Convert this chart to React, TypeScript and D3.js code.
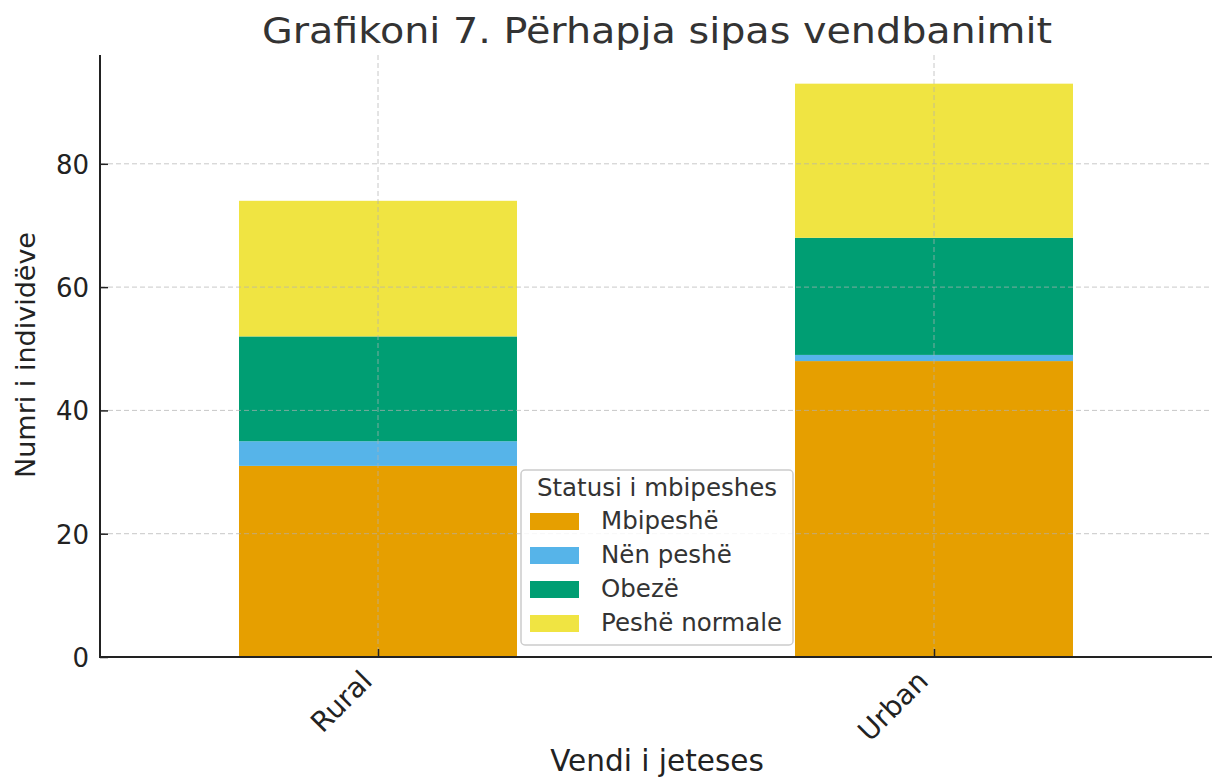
import * as d3 from "d3";
import { useEffect, useRef } from "react";

const places = ["Rural", "Urban"];
const statuses = ["Mbipeshë", "Nën peshë", "Obezë", "Peshë normale"];
const mbipeshe = [31, 48];
const nenPeshe = [4, 1];
const obeze = [17, 19];
const peshNormale = [22, 25];
const yTicks = [0, 20, 40, 60, 80];
const colors = ["#E69F00", "#56B4E9", "#009E73", "#F0E442"];

const W = 1214;
const H = 781;
const FONT = "DejaVu Sans, sans-serif";

export default function App() {
  const svgRef = useRef<SVGSVGElement | null>(null);

  useEffect(() => {
    const svg = d3.select(svgRef.current);
    svg.selectAll("*").remove();

    const m = { left: 100, right: 1212, top: 55, bottom: 657 };
    const series = [mbipeshe, nenPeshe, obeze, peshNormale];
    const rows = places.map((p, i) => {
      const r: any = { place: p };
      statuses.forEach((s, j) => (r[s] = series[j][i]));
      return r;
    });
    const stacked = d3.stack<any>().keys(statuses)(rows);
    const maxVal = d3.max(rows, (r) => d3.sum(statuses, (s) => r[s])) as number;

    // bars sit at 0 and 1, width 0.5, limits -0.5..1.5
    const x = d3.scaleLinear().domain([-0.5, 1.5]).range([m.left, m.right]);
    const y = d3.scaleLinear().domain([0, maxVal * 1.05]).range([m.bottom, m.top]);
    const barW = x(0.5) - x(0);

    const g = svg.append("g");

    stacked.forEach((layer, j) => {
      g.selectAll(null)
        .data(layer)
        .join("rect")
        .attr("x", (_, i) => x(i) - barW / 2)
        .attr("width", barW)
        .attr("y", (d) => y(d[1]))
        .attr("height", (d) => y(d[0]) - y(d[1]))
        .attr("fill", colors[j]);
    });

    // dashed grid over the bars
    const grid = g.append("g").attr("stroke", "#b0b0b0").attr("stroke-opacity", 0.7)
      .attr("stroke-dasharray", "5,3").attr("stroke-width", 1);
    yTicks.slice(1).forEach((t) => {
      grid.append("line").attr("x1", m.left).attr("x2", m.right).attr("y1", y(t)).attr("y2", y(t));
    });
    places.forEach((_, i) => {
      grid.append("line").attr("x1", x(i)).attr("x2", x(i)).attr("y1", m.top).attr("y2", m.bottom);
    });

    // axes, ticks pointing inwards
    const yAxis = g.append("g").attr("transform", `translate(${m.left},0)`)
      .call(d3.axisLeft(y).tickValues(yTicks).tickSize(-8).tickPadding(11).tickFormat(d3.format("d")));
    yAxis.select(".domain").remove();
    yAxis.selectAll("line").attr("stroke", "#222").attr("stroke-width", 1.5);
    yAxis.selectAll("text").attr("font-family", FONT).attr("font-size", 26).attr("fill", "#222")
      .attr("x", -11).attr("dy", "0.36em");

    const xAxis = g.append("g").attr("transform", `translate(0,${m.bottom})`)
      .call(d3.axisBottom(x).tickValues([0, 1]).tickSize(-8).tickFormat((d) => places[d as number]));
    xAxis.select(".domain").remove();
    xAxis.selectAll("line").attr("stroke", "#222").attr("stroke-width", 1.5);
    xAxis.selectAll("text").remove();
    places.forEach((p, i) => {
      g.append("text")
        .attr("transform", `translate(${x(i)},${m.bottom + 30}) rotate(-45)`)
        .attr("y", -6)
        .attr("text-anchor", "end")
        .attr("font-family", FONT).attr("font-size", 28).attr("fill", "#222")
        .text(p);
    });

    g.append("line").attr("x1", m.left).attr("x2", m.left).attr("y1", m.top).attr("y2", m.bottom + 1)
      .attr("stroke", "#222").attr("stroke-width", 2);
    g.append("line").attr("x1", m.left - 1).attr("x2", m.right).attr("y1", m.bottom).attr("y2", m.bottom)
      .attr("stroke", "#222").attr("stroke-width", 2);

    // titles
    svg.append("text").attr("x", 657).attr("y", 43).attr("text-anchor", "middle")
      .attr("font-family", FONT).attr("font-size", 35).attr("fill", "#333")
      .attr("textLength", 790).attr("lengthAdjust", "spacingAndGlyphs")
      .text("Grafikoni 7. Përhapja sipas vendbanimit");
    svg.append("text").attr("x", 657).attr("y", 771).attr("text-anchor", "middle")
      .attr("font-family", FONT).attr("font-size", 29.5).attr("fill", "#222")
      .text("Vendi i jeteses");
    svg.append("text").attr("transform", "translate(35,355) rotate(-90)").attr("text-anchor", "middle")
      .attr("font-family", FONT).attr("font-size", 27).attr("fill", "#222")
      .text("Numri i individëve");

    // legend
    const lg = svg.append("g").attr("transform", "translate(521,470)");
    lg.append("rect").attr("width", 272).attr("height", 175).attr("rx", 4)
      .attr("fill", "white").attr("fill-opacity", 0.85).attr("stroke", "#cccccc").attr("stroke-width", 1.5);
    lg.append("text").attr("x", 136).attr("y", 26).attr("text-anchor", "middle")
      .attr("font-family", FONT).attr("font-size", 24.5).attr("fill", "#333").text("Statusi i mbipeshes");
    statuses.forEach((s, i) => {
      const base = 59 + i * 34;
      lg.append("rect").attr("x", 9).attr("y", base - 16).attr("width", 49).attr("height", 17).attr("fill", colors[i]);
      lg.append("text").attr("x", 80).attr("y", base).attr("font-family", FONT).attr("font-size", 24.5)
        .attr("fill", "#333").text(s);
    });
  }, []);

  return (
    <div style={{ position: "fixed", left: 0, top: 0, width: W, height: H, background: "white" }}>
      <svg ref={svgRef} width={W} height={H} viewBox={`0 0 ${W} ${H}`} />
    </div>
  );
}
